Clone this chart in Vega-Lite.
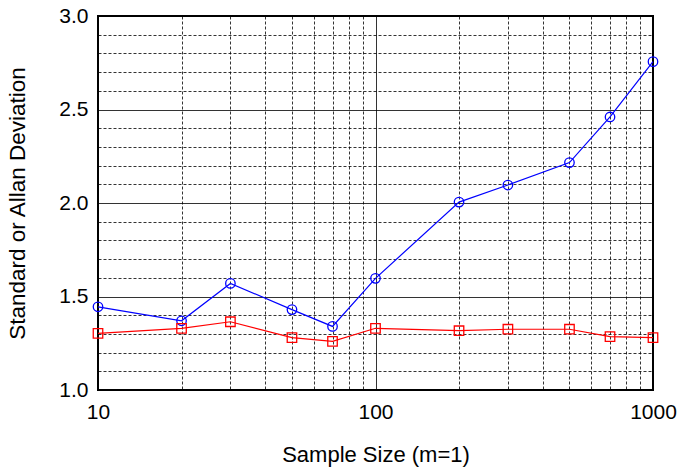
{
  "$schema": "https://vega.github.io/schema/vega-lite/v6.json",
  "width": 555,
  "height": 374,
  "autosize": {"type": "none"},
  "padding": {"left": 98, "top": 16, "right": 25, "bottom": 79},
  "background": "white",
  "config": {
    "view": {"stroke": "black", "strokeWidth": 2},
    "font": "Liberation Sans",
    "axis": {"labelFont": "Liberation Sans", "titleFont": "Liberation Sans", "labelColor": "black", "titleColor": "black"}
  },
  "data": {
    "values": [
      {"m": 10, "dev": 1.445, "series": "Standard"},
      {"m": 20, "dev": 1.37, "series": "Standard"},
      {"m": 30, "dev": 1.57, "series": "Standard"},
      {"m": 50, "dev": 1.43, "series": "Standard"},
      {"m": 70, "dev": 1.34, "series": "Standard"},
      {"m": 100, "dev": 1.597, "series": "Standard"},
      {"m": 200, "dev": 2.005, "series": "Standard"},
      {"m": 300, "dev": 2.096, "series": "Standard"},
      {"m": 500, "dev": 2.216, "series": "Standard"},
      {"m": 700, "dev": 2.46, "series": "Standard"},
      {"m": 1000, "dev": 2.756, "series": "Standard"},
      {"m": 10, "dev": 1.303, "series": "Allan"},
      {"m": 20, "dev": 1.33, "series": "Allan"},
      {"m": 30, "dev": 1.365, "series": "Allan"},
      {"m": 50, "dev": 1.28, "series": "Allan"},
      {"m": 70, "dev": 1.26, "series": "Allan"},
      {"m": 100, "dev": 1.33, "series": "Allan"},
      {"m": 200, "dev": 1.317, "series": "Allan"},
      {"m": 300, "dev": 1.325, "series": "Allan"},
      {"m": 500, "dev": 1.325, "series": "Allan"},
      {"m": 700, "dev": 1.285, "series": "Allan"},
      {"m": 1000, "dev": 1.28, "series": "Allan"}
    ]
  },
  "encoding": {
    "x": {
      "field": "m", "type": "quantitative",
      "scale": {"type": "log", "domain": [10, 1000], "nice": false},
      "axis": {
        "title": "Sample Size (m=1)",
        "titleFontSize": 22, "titleFontWeight": "normal", "titlePadding": 22,
        "labelFontSize": 21, "labelPadding": 11,
        "values": [10, 20, 30, 40, 50, 60, 70, 80, 90, 100, 200, 300, 400, 500, 600, 700, 800, 900, 1000],
        "labelExpr": "(datum.value == 10 || datum.value == 100 || datum.value == 1000) ? format(datum.value, 'd') : ''",
        "labelFlush": false, "labelOverlap": false,
        "ticks": false, "domain": false,
        "grid": true, "gridColor": "black", "gridOpacity": 0.8, "gridWidth": 1,
        "gridDash": {"condition": {"test": "datum.value == 100", "value": []}, "value": [3, 2]}
      }
    },
    "y": {
      "field": "dev", "type": "quantitative",
      "scale": {"domain": [1.0, 3.0], "nice": false, "zero": false},
      "axis": {
        "title": "Standard or Allan Deviation",
        "titleFontSize": 22.5, "titleFontWeight": "normal", "titlePadding": 29,
        "labelFontSize": 21, "labelPadding": 10,
        "values": [1.0, 1.1, 1.2, 1.3, 1.4, 1.5, 1.6, 1.7, 1.8, 1.9, 2.0, 2.1, 2.2, 2.3, 2.4, 2.5, 2.6, 2.7, 2.8, 2.9, 3.0],
        "labelExpr": "abs(datum.value * 2 - round(datum.value * 2)) < 1e-6 ? format(datum.value, '.1f') : ''",
        "labelOverlap": false,
        "ticks": false, "domain": false,
        "grid": true, "gridColor": "black", "gridOpacity": 0.8, "gridWidth": 1,
        "gridDash": {"condition": {"test": "abs(datum.value * 2 - round(datum.value * 2)) < 1e-6", "value": []}, "value": [3, 2]}
      }
    },
    "color": {
      "field": "series", "type": "nominal",
      "scale": {"domain": ["Standard", "Allan"], "range": ["#0000ff", "#ff0000"]},
      "legend": null
    }
  },
  "layer": [
    {"mark": {"type": "line", "strokeWidth": 1.2}},
    {
      "mark": {"type": "point", "filled": false, "strokeWidth": 1.3, "size": 90, "opacity": 1},
      "encoding": {
        "shape": {"field": "series", "type": "nominal", "scale": {"domain": ["Standard", "Allan"], "range": ["circle", "square"]}, "legend": null}
      }
    }
  ]
}
